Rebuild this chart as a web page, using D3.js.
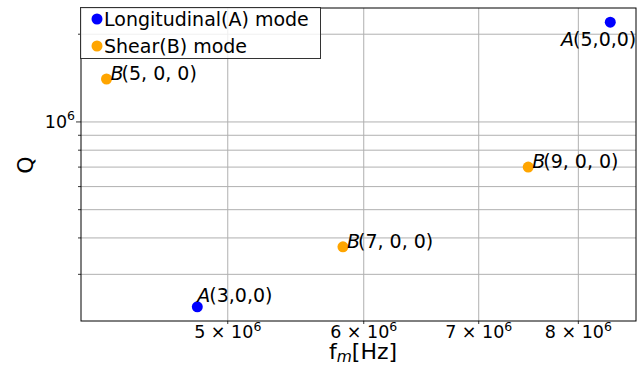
<!DOCTYPE html>
<html>
<head>
<meta charset="utf-8">
<script src="https://cdn.jsdelivr.net/npm/d3@7"></script>
<style>
  body { margin: 0; background: #fff; }
  text { font-family: "DejaVu Sans", sans-serif; }
</style>
</head>
<body>
<svg id="chart" width="641" height="368"></svg>
<script>
// data
const modes = ["A", "B", "B", "B", "A"];
const names = ["(5,0,0)", "(5, 0, 0)", "(9, 0, 0)", "(7, 0, 0)", "(3,0,0)"];
const freq = [8.35e6, 4.25e6, 7.48e6, 5.835e6, 4.8e6];
const qval = [2.2e6, 1.404e6, 7.0e5, 3.73e5, 2.32e5];

const legendLabels = ["Longitudinal(A) mode", "Shear(B) mode"];
const xTickVals = [5e6, 6e6, 7e6, 8e6];
const xTickMant = ["5", "6", "7", "8"];
const yMinorVals = [3e5, 4e5, 5e5, 6e5, 7e5, 8e5, 9e5, 2e6];
const yMajorVals = [1e6];

const colors = { A: "blue", B: "orange" };

const svg = d3.select("#chart");
const pLeft = 81, pRight = 636, pTop = 8, pBottom = 321;

const x = d3.scaleLog().domain([4.107e6, 8.643e6]).range([pLeft, pRight]);
const y = d3.scaleLog().domain([2.075e5, 2.46e6]).range([pBottom, pTop]);

const g = svg.append("g");

// grid
g.selectAll("line.gx").data(xTickVals).join("line")
  .attr("x1", d => x(d)).attr("x2", d => x(d))
  .attr("y1", pTop).attr("y2", pBottom)
  .attr("stroke", "#b0b0b0").attr("stroke-width", 1);

g.selectAll("line.gy").data(yMinorVals.concat(yMajorVals)).join("line")
  .attr("x1", pLeft).attr("x2", pRight)
  .attr("y1", d => y(d)).attr("y2", d => y(d))
  .attr("stroke", "#b0b0b0").attr("stroke-width", 1);

// ticks
g.selectAll("line.tx").data(xTickVals).join("line")
  .attr("x1", d => x(d)).attr("x2", d => x(d))
  .attr("y1", pBottom).attr("y2", pBottom + 3)
  .attr("stroke", "#000").attr("stroke-width", 0.8);
g.selectAll("line.ty").data(yMinorVals).join("line")
  .attr("x1", pLeft - 3).attr("x2", pLeft)
  .attr("y1", d => y(d)).attr("y2", d => y(d))
  .attr("stroke", "#000").attr("stroke-width", 0.8);
g.selectAll("line.tY").data(yMajorVals).join("line")
  .attr("x1", pLeft - 5).attr("x2", pLeft)
  .attr("y1", d => y(d)).attr("y2", d => y(d))
  .attr("stroke", "#000").attr("stroke-width", 0.8);

// tick labels
const xl = g.selectAll("text.xl").data(xTickVals).join("text")
  .attr("x", d => x(d)).attr("y", pBottom + 17)
  .attr("text-anchor", "middle").attr("font-size", 17.5);
xl.append("tspan").text((d, i) => xTickMant[i] + " \u00d7 10");
xl.append("tspan").attr("dy", -7.5).attr("font-size", 12.5).text("6");

const yl = g.selectAll("text.yl").data(yMajorVals).join("text")
  .attr("x", pLeft - 6).attr("y", d => y(d) + 6)
  .attr("text-anchor", "end").attr("font-size", 17.5);
yl.append("tspan").text("10");
yl.append("tspan").attr("dy", -7.5).attr("font-size", 12.5).text("6");

// frame
g.append("rect")
  .attr("x", pLeft).attr("y", pTop)
  .attr("width", pRight - pLeft).attr("height", pBottom - pTop)
  .attr("fill", "none").attr("stroke", "#000").attr("stroke-width", 1);

// axis labels
const xt = svg.append("text")
  .attr("x", 363).attr("y", 359)
  .attr("text-anchor", "middle").attr("font-size", 22);
xt.append("tspan").text("f");
xt.append("tspan").attr("dy", 3).attr("font-size", 15.5).attr("font-style", "italic").text("m");
xt.append("tspan").attr("dy", -3).text("[Hz]");

svg.append("text")
  .attr("transform", "translate(33,165) rotate(-90)")
  .attr("text-anchor", "middle").attr("font-size", 22)
  .text("Q");

// points
g.selectAll("circle.pt").data(freq).join("circle")
  .attr("cx", d => x(d))
  .attr("cy", (d, i) => y(qval[i]))
  .attr("r", 5.5)
  .attr("fill", (d, i) => colors[modes[i]]);

// point labels
const labelShift = (i) => {
  if (modes[i] === "B") return [4, 1, "start"];
  if (x(freq[i]) > pRight - 60) return [26, 24, "end"];
  return [0, -5, "start"];
};
const pl = g.selectAll("text.pl").data(freq).join("text")
  .attr("x", (d, i) => x(d) + labelShift(i)[0])
  .attr("y", (d, i) => y(qval[i]) + labelShift(i)[1])
  .attr("text-anchor", (d, i) => labelShift(i)[2])
  .attr("font-size", 19);
pl.append("tspan").attr("font-style", "italic").text((d, i) => modes[i]);
pl.append("tspan").attr("dx", (d, i) => modes[i] === "B" ? -2 : -1).text((d, i) => names[i]);

// legend
const lg = svg.append("g");
lg.append("rect")
  .attr("x", 80.5).attr("y", 7.5).attr("width", 240).attr("height", 51)
  .attr("fill", "#fff").attr("fill-opacity", 0.8)
  .attr("stroke", "#333").attr("stroke-width", 1);
lg.selectAll("circle").data(legendLabels).join("circle")
  .attr("cx", 97).attr("cy", (d, i) => 19 + i * 27)
  .attr("r", 5.5)
  .attr("fill", (d, i) => colors[i === 0 ? "A" : "B"]);
lg.selectAll("text").data(legendLabels).join("text")
  .attr("x", 104).attr("y", (d, i) => 25.5 + i * 27)
  .attr("font-size", 19)
  .text(d => d);
</script>
</body>
</html>
